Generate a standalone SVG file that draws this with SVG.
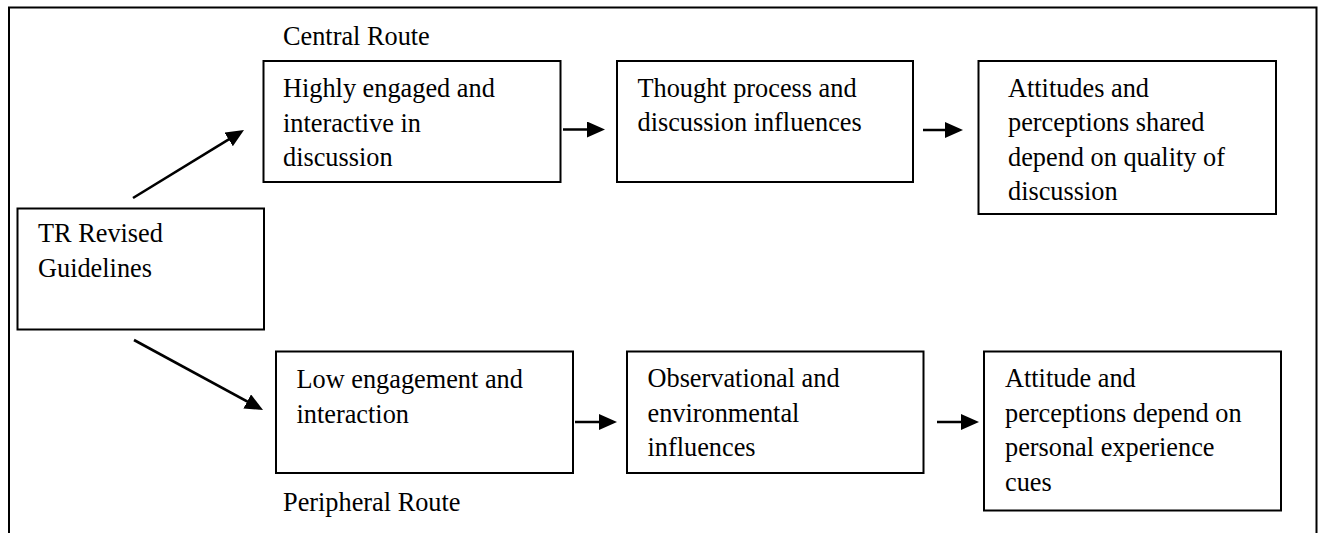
<svg xmlns="http://www.w3.org/2000/svg" width="1320" height="533" viewBox="0 0 1320 533">
<style>
.box{fill:#fff;stroke:#000;stroke-width:2}
.t{font-family:"Liberation Serif","Times New Roman",serif;font-size:26.3px;fill:#000}
.c{stroke:#000;stroke-width:2.6;fill:none;marker-end:url(#ah)}
</style>
<defs>
<marker id="ah" markerUnits="userSpaceOnUse" markerWidth="18" markerHeight="16" viewBox="0 0 18 16" refX="14" refY="8" orient="auto">
<path d="M0,0 L18,8 L0,16 z" fill="#000"/>
</marker>
</defs>
<rect width="1320" height="533" fill="#fff"/>
<path d="M9,540 V7.5 H1316.5 V540" fill="none" stroke="#000" stroke-width="2"/>
<g id="label-central"><text class="t" x="283" y="45">Central Route</text></g>
<g id="label-peripheral"><text class="t" x="283" y="511">Peripheral Route</text></g>
<g id="n-tr">
<rect class="box" x="17.5" y="208.5" width="246.5" height="121"/>
<text class="t" x="38" y="242">TR Revised</text>
<text class="t" x="38" y="277">Guidelines</text>
</g>
<g id="n-high">
<rect class="box" x="263.5" y="61" width="297" height="121"/>
<text class="t" x="283" y="97">Highly engaged and</text>
<text class="t" x="283" y="131.5">interactive in</text>
<text class="t" x="283" y="166">discussion</text>
</g>
<g id="n-thought">
<rect class="box" x="617" y="61" width="296" height="121"/>
<text class="t" x="637.5" y="97">Thought process and</text>
<text class="t" x="637.5" y="131">discussion influences</text>
</g>
<g id="n-shared">
<rect class="box" x="978.5" y="61" width="297.5" height="153"/>
<text class="t" x="1008" y="97">Attitudes and</text>
<text class="t" x="1008" y="131">perceptions shared</text>
<text class="t" x="1008" y="166">depend on quality of</text>
<text class="t" x="1008" y="200">discussion</text>
</g>
<g id="n-low">
<rect class="box" x="276" y="351.5" width="297" height="121.5"/>
<text class="t" x="296.5" y="388">Low engagement and</text>
<text class="t" x="296.5" y="422.5">interaction</text>
</g>
<g id="n-obs">
<rect class="box" x="627" y="351.5" width="296.5" height="121.5"/>
<text class="t" x="647.5" y="387">Observational and</text>
<text class="t" x="647.5" y="421.5">environmental</text>
<text class="t" x="647.5" y="456">influences</text>
</g>
<g id="n-personal">
<rect class="box" x="984" y="351.5" width="297" height="159"/>
<text class="t" x="1005" y="386.5">Attitude and</text>
<text class="t" x="1005" y="421.5">perceptions depend on</text>
<text class="t" x="1005" y="456">personal experience</text>
<text class="t" x="1005" y="490.5">cues</text>
</g>
<g id="connectors">
<line class="c" x1="133" y1="198" x2="240.6" y2="132.1"/>
<line class="c" x1="134" y1="340" x2="259.5" y2="408.1"/>
<line class="c" x1="563" y1="129.5" x2="601" y2="129.5"/>
<line class="c" x1="923" y1="130" x2="959" y2="130"/>
<line class="c" x1="575" y1="422" x2="613" y2="422"/>
<line class="c" x1="937" y1="422" x2="975" y2="422"/>
</g>
</svg>
